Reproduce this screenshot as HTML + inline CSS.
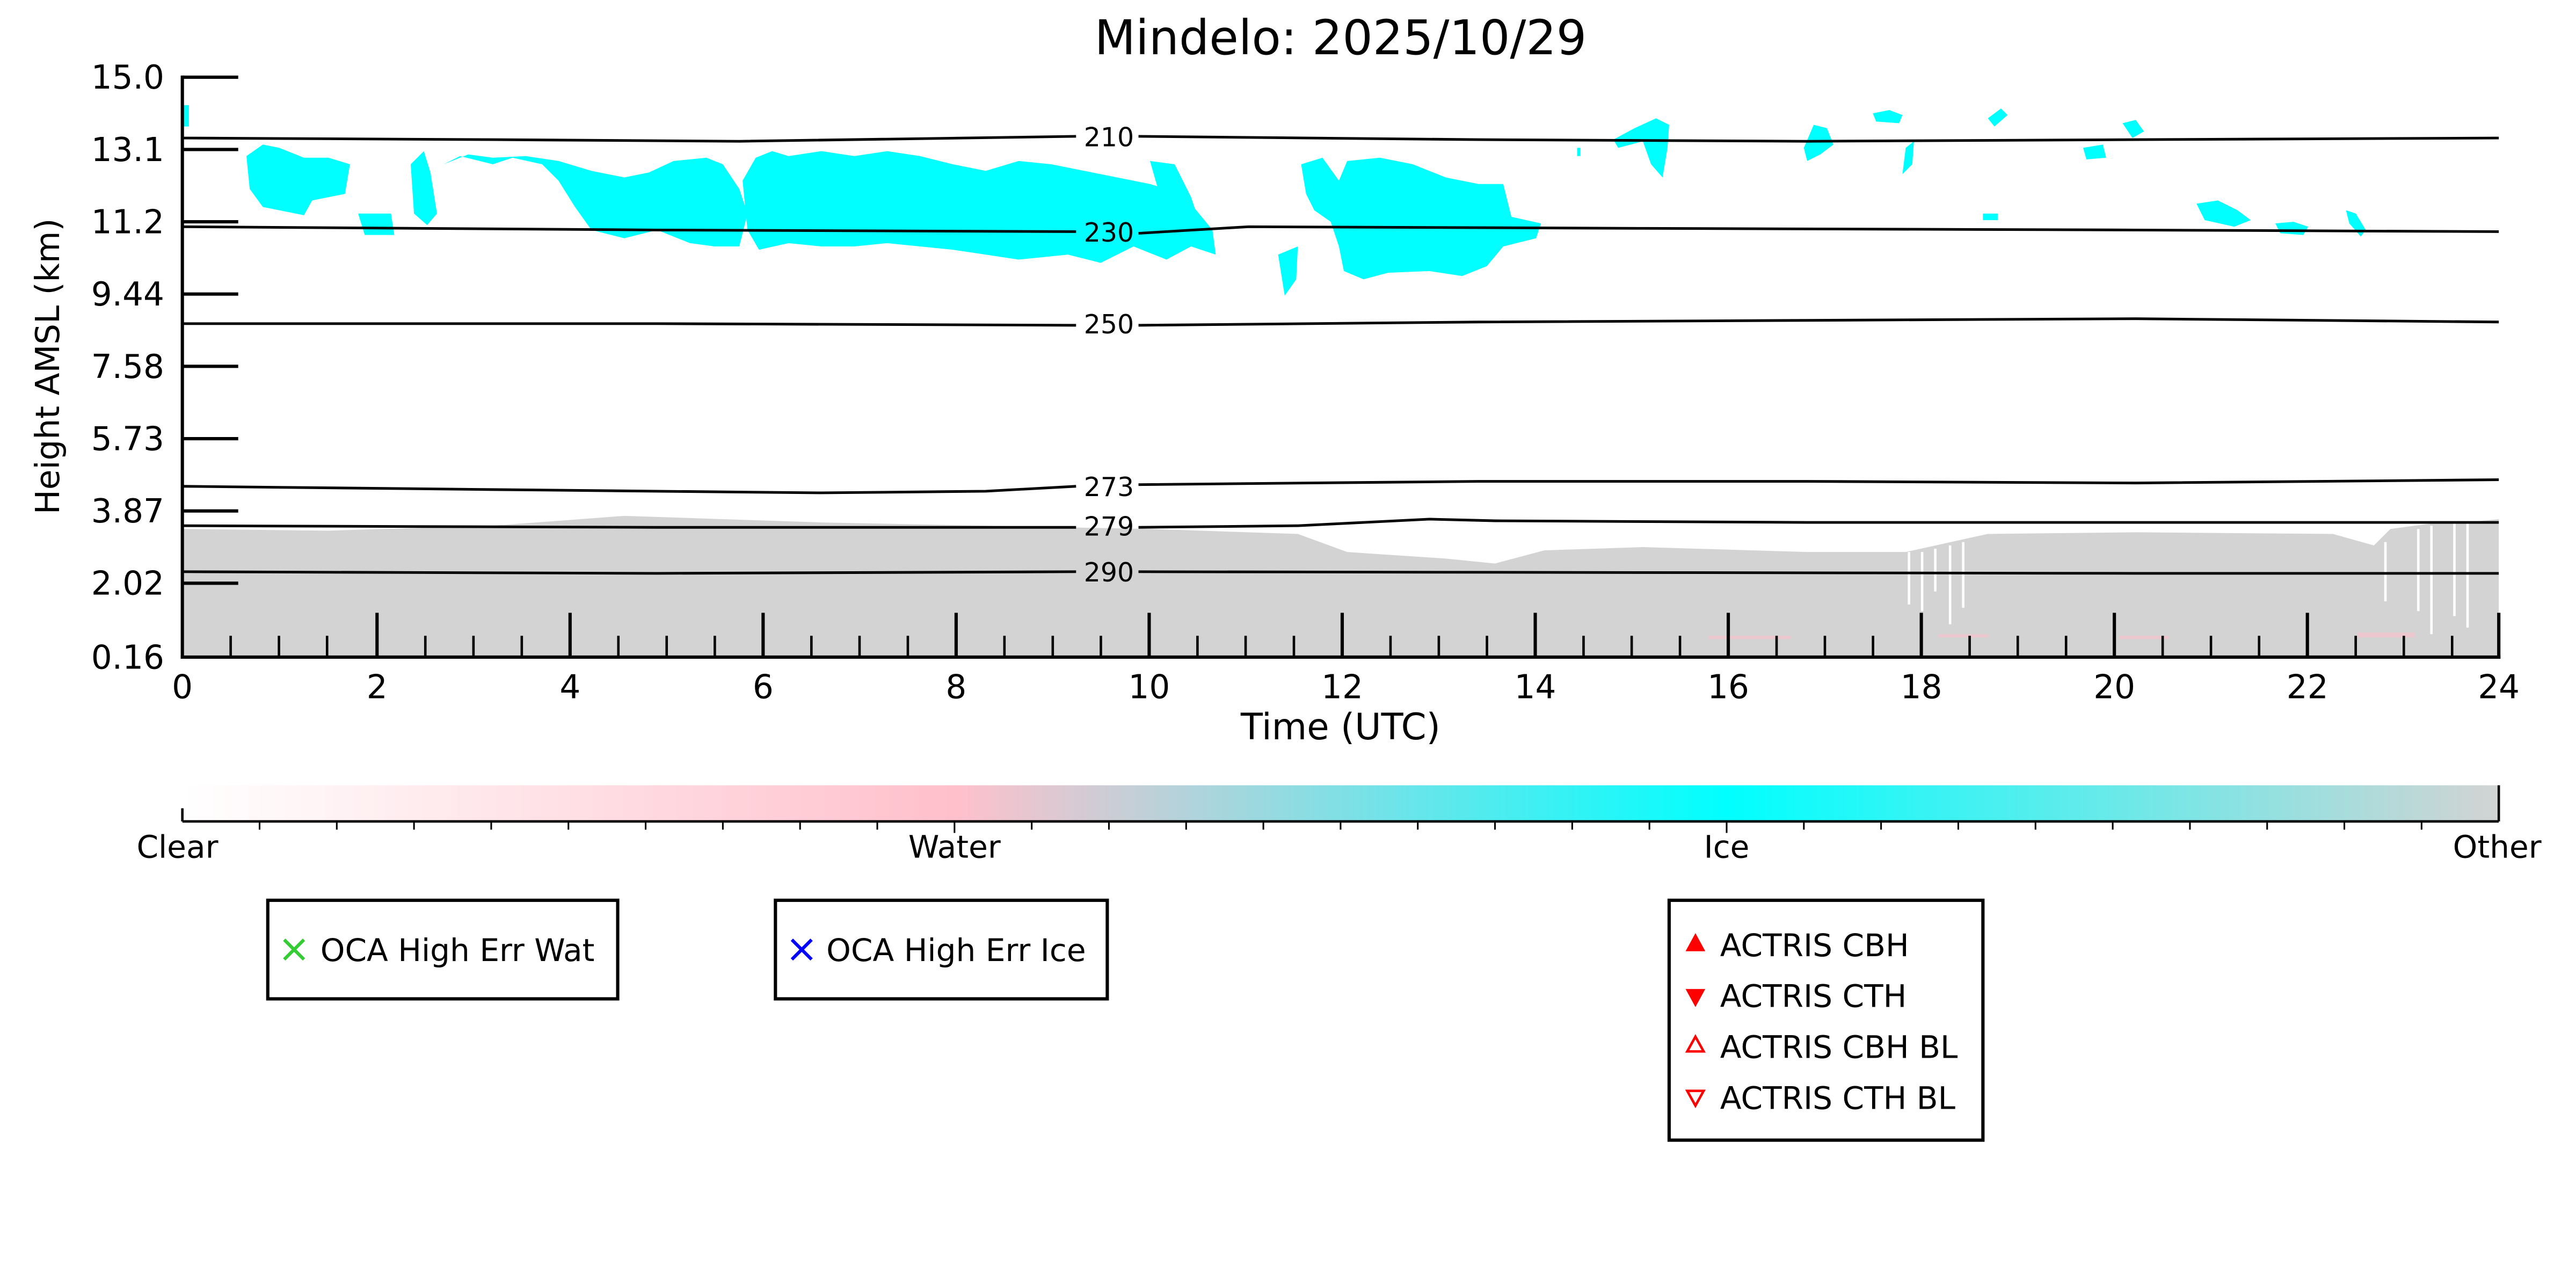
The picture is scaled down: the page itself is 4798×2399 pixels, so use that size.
<!DOCTYPE html>
<html><head><meta charset="utf-8"><style>
html,body{margin:0;padding:0;background:#fff;}
svg{display:block;}
text{font-family:"DejaVu Sans","Liberation Sans",sans-serif;}
</style></head><body>
<svg width="4798" height="2399" viewBox="0 0 1568 784" xmlns="http://www.w3.org/2000/svg">
<defs>
<linearGradient id="cb" x1="0" x2="1" y1="0" y2="0">
<stop offset="0" stop-color="#ffffff"/>
<stop offset="0.3333" stop-color="#ffc0cb"/>
<stop offset="0.6667" stop-color="#00ffff"/>
<stop offset="1" stop-color="#d3d3d3"/>
</linearGradient>
</defs>
<text x="816" y="33" font-size="29" text-anchor="middle">Mindelo: 2025/10/29</text>

<polygon fill="#d3d3d3" points="111,322 200,323 300,320 380,314 440,316 500,318 600,320 700,322 790,325 820,336 880,340 910,343 940,335 1000,333 1100,336 1150,336 1160,336 1210,325 1300,324 1420,325 1445,332 1455,322 1470,320 1485,318 1500,318 1521,316 1521,400 111,400"/>
<g stroke="#fff" stroke-width="1.5">
<line x1="1162" y1="336" x2="1162" y2="368"/><line x1="1170" y1="336" x2="1170" y2="372"/>
<line x1="1178" y1="334" x2="1178" y2="360"/><line x1="1187" y1="332" x2="1187" y2="380"/>
<line x1="1195" y1="330" x2="1195" y2="370"/><line x1="1452" y1="330" x2="1452" y2="366"/>
<line x1="1472" y1="322" x2="1472" y2="372"/><line x1="1480" y1="320" x2="1480" y2="386"/>
<line x1="1494" y1="318" x2="1494" y2="375"/><line x1="1502" y1="318" x2="1502" y2="382"/>
</g>
<g fill="#ffc0cb" opacity="0.6"><rect x="1435" y="385" width="35" height="3"/><rect x="1040" y="387" width="50" height="2"/><rect x="1180" y="386" width="30" height="2"/><rect x="1290" y="387" width="30" height="2"/></g>

<g fill="#00ffff">
<rect x="111" y="64" width="4" height="13"/>
<polygon points="150,95 160,88 170,90 185,96 200,96 213,100 210,118 190,122 185,131 170,128 160,126 152,115"/>
<polygon points="218,130 238,130 240,143 222,143"/>
<polygon points="250,100 258,92 262,105 266,130 260,137 252,130"/>
<polygon points="270,100 280,95 300,100 312,96 330,100 340,110 350,126 360,140 380,145 400,140 420,148 435,150 450,150 455,130 450,115 440,100 430,96 410,98 395,105 380,108 360,104 340,98 320,95 300,96 285,94"/>
<polygon points="452,110 460,96 470,92 480,95 500,92 520,95 540,92 560,95 580,100 600,104 620,98 640,100 660,104 680,108 700,112 720,118 738,140 740,155 725,150 710,158 690,150 670,160 650,155 620,158 600,155 580,152 560,150 540,148 520,150 500,150 480,148 462,152 455,140"/>
<polygon points="700,98 715,100 725,120 730,135 712,140"/>
<polygon points="778,155 790,150 789,170 782,180"/>
<polygon points="792,100 805,96 815,110 820,98 840,96 860,100 880,108 900,112 915,112 920,132 938,136 935,145 915,150 905,162 890,168 870,165 845,166 830,170 818,165 815,150 810,135 800,128 795,118"/>
<rect x="960" y="90" width="2" height="5"/>
<polygon points="982,85 995,78 1008,72 1016,76 1015,90 1012,108 1005,100 1000,86 985,90"/>
<polygon points="1098,90 1104,76 1112,78 1116,88 1108,94 1100,98"/>
<polygon points="1140,69 1150,67 1158,70 1156,75 1142,74"/>
<polygon points="1160,90 1165,86 1164,100 1158,106"/>
<polygon points="1210,72 1218,66 1222,70 1214,77"/>
<polygon points="1268,90 1280,88 1282,96 1270,97"/>
<polygon points="1292,75 1300,73 1305,80 1298,84"/>
<rect x="1207" y="130" width="9" height="4"/>
<polygon points="1337,124 1350,122 1362,128 1370,134 1360,138 1342,134"/>
<polygon points="1385,136 1396,135 1405,138 1402,143 1388,142"/>
<polygon points="1428,128 1434,130 1440,140 1437,144 1430,136"/>
</g>

<g fill="none" stroke="#000" stroke-width="1.6">
<polyline points="111,84 300,85 450,86 655,83"/><polyline points="693,83 900,85 1100,86 1300,85 1521,84"/>
<polyline points="111,138 400,140 655,141"/><polyline points="693,142 760,138 1000,139 1300,140 1521,141"/>
<polyline points="111,197 400,197 655,198"/><polyline points="693,198 900,196 1300,194 1521,196"/>
<polyline points="111,296 300,298 500,300 600,299 655,296"/><polyline points="693,295 900,293 1100,293 1300,294 1521,292"/>
<polyline points="111,320 400,321 655,321"/><polyline points="693,321 790,320 870,316 910,317 1100,318 1521,318"/>
<polyline points="111,348 400,349 655,348"/><polyline points="693,348 1300,349 1521,349"/>
</g>
<g font-size="16" text-anchor="middle" style="font-family:'Liberation Sans',sans-serif">
<text x="675" y="89">210</text><text x="675" y="147">230</text><text x="675" y="203">250</text>
<text x="675" y="302">273</text><text x="675" y="326">279</text><text x="675" y="354">290</text>
</g>

<g stroke="#000">
<line x1="111" y1="46" x2="111" y2="401" stroke-width="2"/>
<line x1="110" y1="400" x2="1522" y2="400" stroke-width="2"/>
<line x1="1521" y1="373" x2="1521" y2="401" stroke-width="2"/>
<g stroke-width="2">
<line x1="111" y1="47" x2="145" y2="47"/><line x1="111" y1="91" x2="145" y2="91"/>
<line x1="111" y1="135" x2="145" y2="135"/><line x1="111" y1="179" x2="145" y2="179"/>
<line x1="111" y1="223" x2="145" y2="223"/><line x1="111" y1="267" x2="145" y2="267"/>
<line x1="111" y1="311" x2="145" y2="311"/><line x1="111" y1="355" x2="145" y2="355"/>
</g>
<g stroke-width="2">
<line x1="229.5" y1="373" x2="229.5" y2="400"/><line x1="347" y1="373" x2="347" y2="400"/>
<line x1="464.5" y1="373" x2="464.5" y2="400"/><line x1="582" y1="373" x2="582" y2="400"/>
<line x1="699.5" y1="373" x2="699.5" y2="400"/><line x1="817" y1="373" x2="817" y2="400"/>
<line x1="934.5" y1="373" x2="934.5" y2="400"/><line x1="1052" y1="373" x2="1052" y2="400"/>
<line x1="1169.5" y1="373" x2="1169.5" y2="400"/><line x1="1287" y1="373" x2="1287" y2="400"/>
<line x1="1404.5" y1="373" x2="1404.5" y2="400"/>
</g>
<g stroke-width="1.5">
<line x1="140.4" y1="387" x2="140.4" y2="400"/><line x1="169.8" y1="387" x2="169.8" y2="400"/><line x1="199.1" y1="387" x2="199.1" y2="400"/>
<line x1="258.9" y1="387" x2="258.9" y2="400"/><line x1="288.2" y1="387" x2="288.2" y2="400"/><line x1="317.6" y1="387" x2="317.6" y2="400"/>
<line x1="376.4" y1="387" x2="376.4" y2="400"/><line x1="405.8" y1="387" x2="405.8" y2="400"/><line x1="435.1" y1="387" x2="435.1" y2="400"/>
<line x1="493.9" y1="387" x2="493.9" y2="400"/><line x1="523.2" y1="387" x2="523.2" y2="400"/><line x1="552.6" y1="387" x2="552.6" y2="400"/>
<line x1="611.4" y1="387" x2="611.4" y2="400"/><line x1="640.8" y1="387" x2="640.8" y2="400"/><line x1="670.1" y1="387" x2="670.1" y2="400"/>
<line x1="728.9" y1="387" x2="728.9" y2="400"/><line x1="758.2" y1="387" x2="758.2" y2="400"/><line x1="787.6" y1="387" x2="787.6" y2="400"/>
<line x1="846.4" y1="387" x2="846.4" y2="400"/><line x1="875.8" y1="387" x2="875.8" y2="400"/><line x1="905.1" y1="387" x2="905.1" y2="400"/>
<line x1="963.9" y1="387" x2="963.9" y2="400"/><line x1="993.2" y1="387" x2="993.2" y2="400"/><line x1="1022.6" y1="387" x2="1022.6" y2="400"/>
<line x1="1081.4" y1="387" x2="1081.4" y2="400"/><line x1="1110.8" y1="387" x2="1110.8" y2="400"/><line x1="1140.1" y1="387" x2="1140.1" y2="400"/>
<line x1="1198.9" y1="387" x2="1198.9" y2="400"/><line x1="1228.2" y1="387" x2="1228.2" y2="400"/><line x1="1257.6" y1="387" x2="1257.6" y2="400"/>
<line x1="1316.4" y1="387" x2="1316.4" y2="400"/><line x1="1345.8" y1="387" x2="1345.8" y2="400"/><line x1="1375.1" y1="387" x2="1375.1" y2="400"/>
<line x1="1433.9" y1="387" x2="1433.9" y2="400"/><line x1="1463.2" y1="387" x2="1463.2" y2="400"/><line x1="1492.6" y1="387" x2="1492.6" y2="400"/>
</g>
</g>
<g font-size="20" text-anchor="end">
<text x="100" y="54">15.0</text><text x="100" y="98">13.1</text><text x="100" y="142">11.2</text>
<text x="100" y="186">9.44</text><text x="100" y="230">7.58</text><text x="100" y="274">5.73</text>
<text x="100" y="318">3.87</text><text x="100" y="362">2.02</text><text x="100" y="407">0.16</text>
</g>
<g font-size="20" text-anchor="middle">
<text x="111" y="425">0</text><text x="229.5" y="425">2</text><text x="347" y="425">4</text><text x="464.5" y="425">6</text>
<text x="582" y="425">8</text><text x="699.5" y="425">10</text><text x="817" y="425">12</text><text x="934.5" y="425">14</text>
<text x="1052" y="425">16</text><text x="1169.5" y="425">18</text><text x="1287" y="425">20</text><text x="1404.5" y="425">22</text>
<text x="1521" y="425">24</text>
<text x="816" y="450" font-size="22">Time (UTC)</text>
</g>
<text transform="translate(36,223) rotate(-90)" font-size="20" text-anchor="middle">Height AMSL (km)</text>

<rect x="111" y="478" width="1410" height="22" fill="url(#cb)"/>
<line x1="111" y1="500" x2="1521" y2="500" stroke="#000" stroke-width="1.5"/>
<line x1="111" y1="492" x2="111" y2="500" stroke="#000" stroke-width="1.5"/>
<line x1="1521" y1="478" x2="1521" y2="500" stroke="#000" stroke-width="1.5"/>
<g stroke="#000" stroke-width="1">
<line x1="158" y1="500" x2="158" y2="505"/><line x1="205" y1="500" x2="205" y2="505"/><line x1="252" y1="500" x2="252" y2="505"/>
<line x1="299" y1="500" x2="299" y2="505"/><line x1="346" y1="500" x2="346" y2="505"/><line x1="393" y1="500" x2="393" y2="505"/>
<line x1="440" y1="500" x2="440" y2="505"/><line x1="487" y1="500" x2="487" y2="505"/><line x1="534" y1="500" x2="534" y2="505"/>
<line x1="581" y1="500" x2="581" y2="507"/><line x1="628" y1="500" x2="628" y2="505"/><line x1="675" y1="500" x2="675" y2="505"/>
<line x1="722" y1="500" x2="722" y2="505"/><line x1="769" y1="500" x2="769" y2="505"/><line x1="816" y1="500" x2="816" y2="505"/>
<line x1="863" y1="500" x2="863" y2="505"/><line x1="910" y1="500" x2="910" y2="505"/><line x1="957" y1="500" x2="957" y2="505"/>
<line x1="1004" y1="500" x2="1004" y2="505"/><line x1="1051" y1="500" x2="1051" y2="507"/><line x1="1098" y1="500" x2="1098" y2="505"/>
<line x1="1145" y1="500" x2="1145" y2="505"/><line x1="1192" y1="500" x2="1192" y2="505"/><line x1="1239" y1="500" x2="1239" y2="505"/>
<line x1="1286" y1="500" x2="1286" y2="505"/><line x1="1333" y1="500" x2="1333" y2="505"/><line x1="1380" y1="500" x2="1380" y2="505"/>
<line x1="1427" y1="500" x2="1427" y2="505"/><line x1="1474" y1="500" x2="1474" y2="505"/>
</g>
<g font-size="19" text-anchor="middle">
<text x="108" y="522">Clear</text><text x="581" y="522">Water</text><text x="1051" y="522">Ice</text><text x="1520" y="522">Other</text>
</g>

<g fill="none" stroke="#000" stroke-width="2">
<rect x="163" y="548" width="213" height="60"/>
<rect x="472" y="548" width="202" height="60"/>
<rect x="1016" y="548" width="191" height="146"/>
</g>
<g stroke-width="2">
<path d="M173,572 L185,584 M185,572 L173,584" stroke="#33cc33"/>
<path d="M482,572 L494,584 M494,572 L482,584" stroke="#0000ff"/>
</g>
<g font-size="19">
<text x="195" y="585">OCA High Err Wat</text>
<text x="503" y="585">OCA High Err Ice</text>
<text x="1047" y="582">ACTRIS CBH</text>
<text x="1047" y="613">ACTRIS CTH</text>
<text x="1047" y="644">ACTRIS CBH BL</text>
<text x="1047" y="675">ACTRIS CTH BL</text>
</g>
<polygon points="1032,568 1038,579 1026,579" fill="#ff0000"/>
<polygon points="1026,602 1038,602 1032,613" fill="#ff0000"/>
<polygon points="1032,631 1037,640 1027,640" fill="none" stroke="#ff0000" stroke-width="1.5"/>
<polygon points="1027,664 1037,664 1032,673" fill="none" stroke="#ff0000" stroke-width="1.5"/>
</svg>
</body></html>
